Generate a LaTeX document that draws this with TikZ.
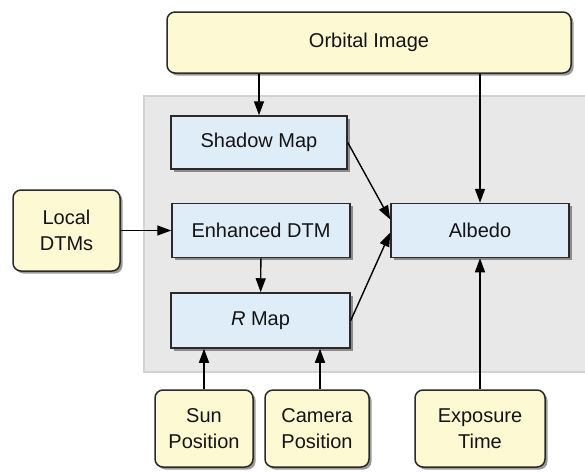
\documentclass[tikz,border=0pt]{standalone}
\usepackage{fontspec}
\setmainfont{Liberation Sans}
\usetikzlibrary{arrows.meta,shadows}

\definecolor{inputfill}{HTML}{FDF9D3}
\definecolor{procfill}{HTML}{DFEDF8}
\definecolor{panelfill}{HTML}{E8E8E8}
\definecolor{panelline}{HTML}{D2D2D2}
\definecolor{boxline}{HTML}{2A2A2A}

\tikzset{
	boxfont/.style={font=\fontsize{20}{26}\selectfont, text=black!92},
	boxshadow/.style={drop shadow={shadow xshift=2.5pt, shadow yshift=-2.5pt, fill=black, opacity=0.4}},
	inputbox/.style={draw=boxline, line width=1.5pt, fill=inputfill, rounded corners=8pt,
		align=center, inner sep=0pt, boxfont, boxshadow},
	procbox/.style={draw=boxline, line width=1.5pt, fill=procfill,
		align=center, inner sep=0pt, boxfont, boxshadow},
	flow/.style={-{Triangle[length=14pt,width=10pt]}, line width=1.4pt, black}
}

\begin{document}
\begin{tikzpicture}[x=1pt, y=-1pt]

		\useasboundingbox (0,0) rectangle (585,471);

		% gray panel %
		\fill[panelfill] (144,96) rectangle (585,372);
		\draw[panelline, line width=2.5pt] (585,96) -- (144,96) -- (144,372) -- (585,372);

		% inputs %
		\node[inputbox, minimum width=404pt, minimum height=61pt] (orbital) at (369,42.5) {Orbital Image};
		\node[inputbox, minimum width=107pt, minimum height=81pt] (local) at (66.5,230.5) {Local\\DTMs};
		\node[inputbox, minimum width=98pt, minimum height=77pt] (sun) at (204,428.5) {Sun\\Position};
		\node[inputbox, minimum width=104pt, minimum height=77pt] (camera) at (317,428.5) {Camera\\Position};
		\node[inputbox, minimum width=130pt, minimum height=77pt] (exposure) at (480,428.5) {Exposure\\Time};

		% processing steps %
		\node[procbox, minimum width=176pt, minimum height=53pt] (shadow) at (259,142.5) {Shadow Map};
		\node[procbox, minimum width=178pt, minimum height=54pt] (enhanced) at (261,230.5) {Enhanced DTM};
		\node[procbox, minimum width=179pt, minimum height=55pt] (rmap) at (260.5,320.5) {\textit{R} Map};
		\node[procbox, minimum width=178pt, minimum height=54pt] (albedo) at (480,230.5) {Albedo};

		% connectors %
		\draw[flow] (shadow.north |- orbital.south) -- (shadow.north);
		\draw[flow] (albedo.north |- orbital.south) -- (albedo.north);
		\draw[flow] (local) -- (enhanced);
		\draw[flow] (enhanced) -- (rmap);
		\draw[flow] (shadow.east) -- ([yshift=11pt]albedo.west);
		\draw[flow] (rmap.east) -- ([yshift=-2pt]albedo.west);
		\draw[flow] (sun.north) -- (sun.north |- rmap.south);
		\draw[flow] ([xshift=3pt]camera.north) -- ([xshift=3pt]camera.north |- rmap.south);
		\draw[flow] (exposure) -- (albedo);

	\end{tikzpicture}
\end{document}
